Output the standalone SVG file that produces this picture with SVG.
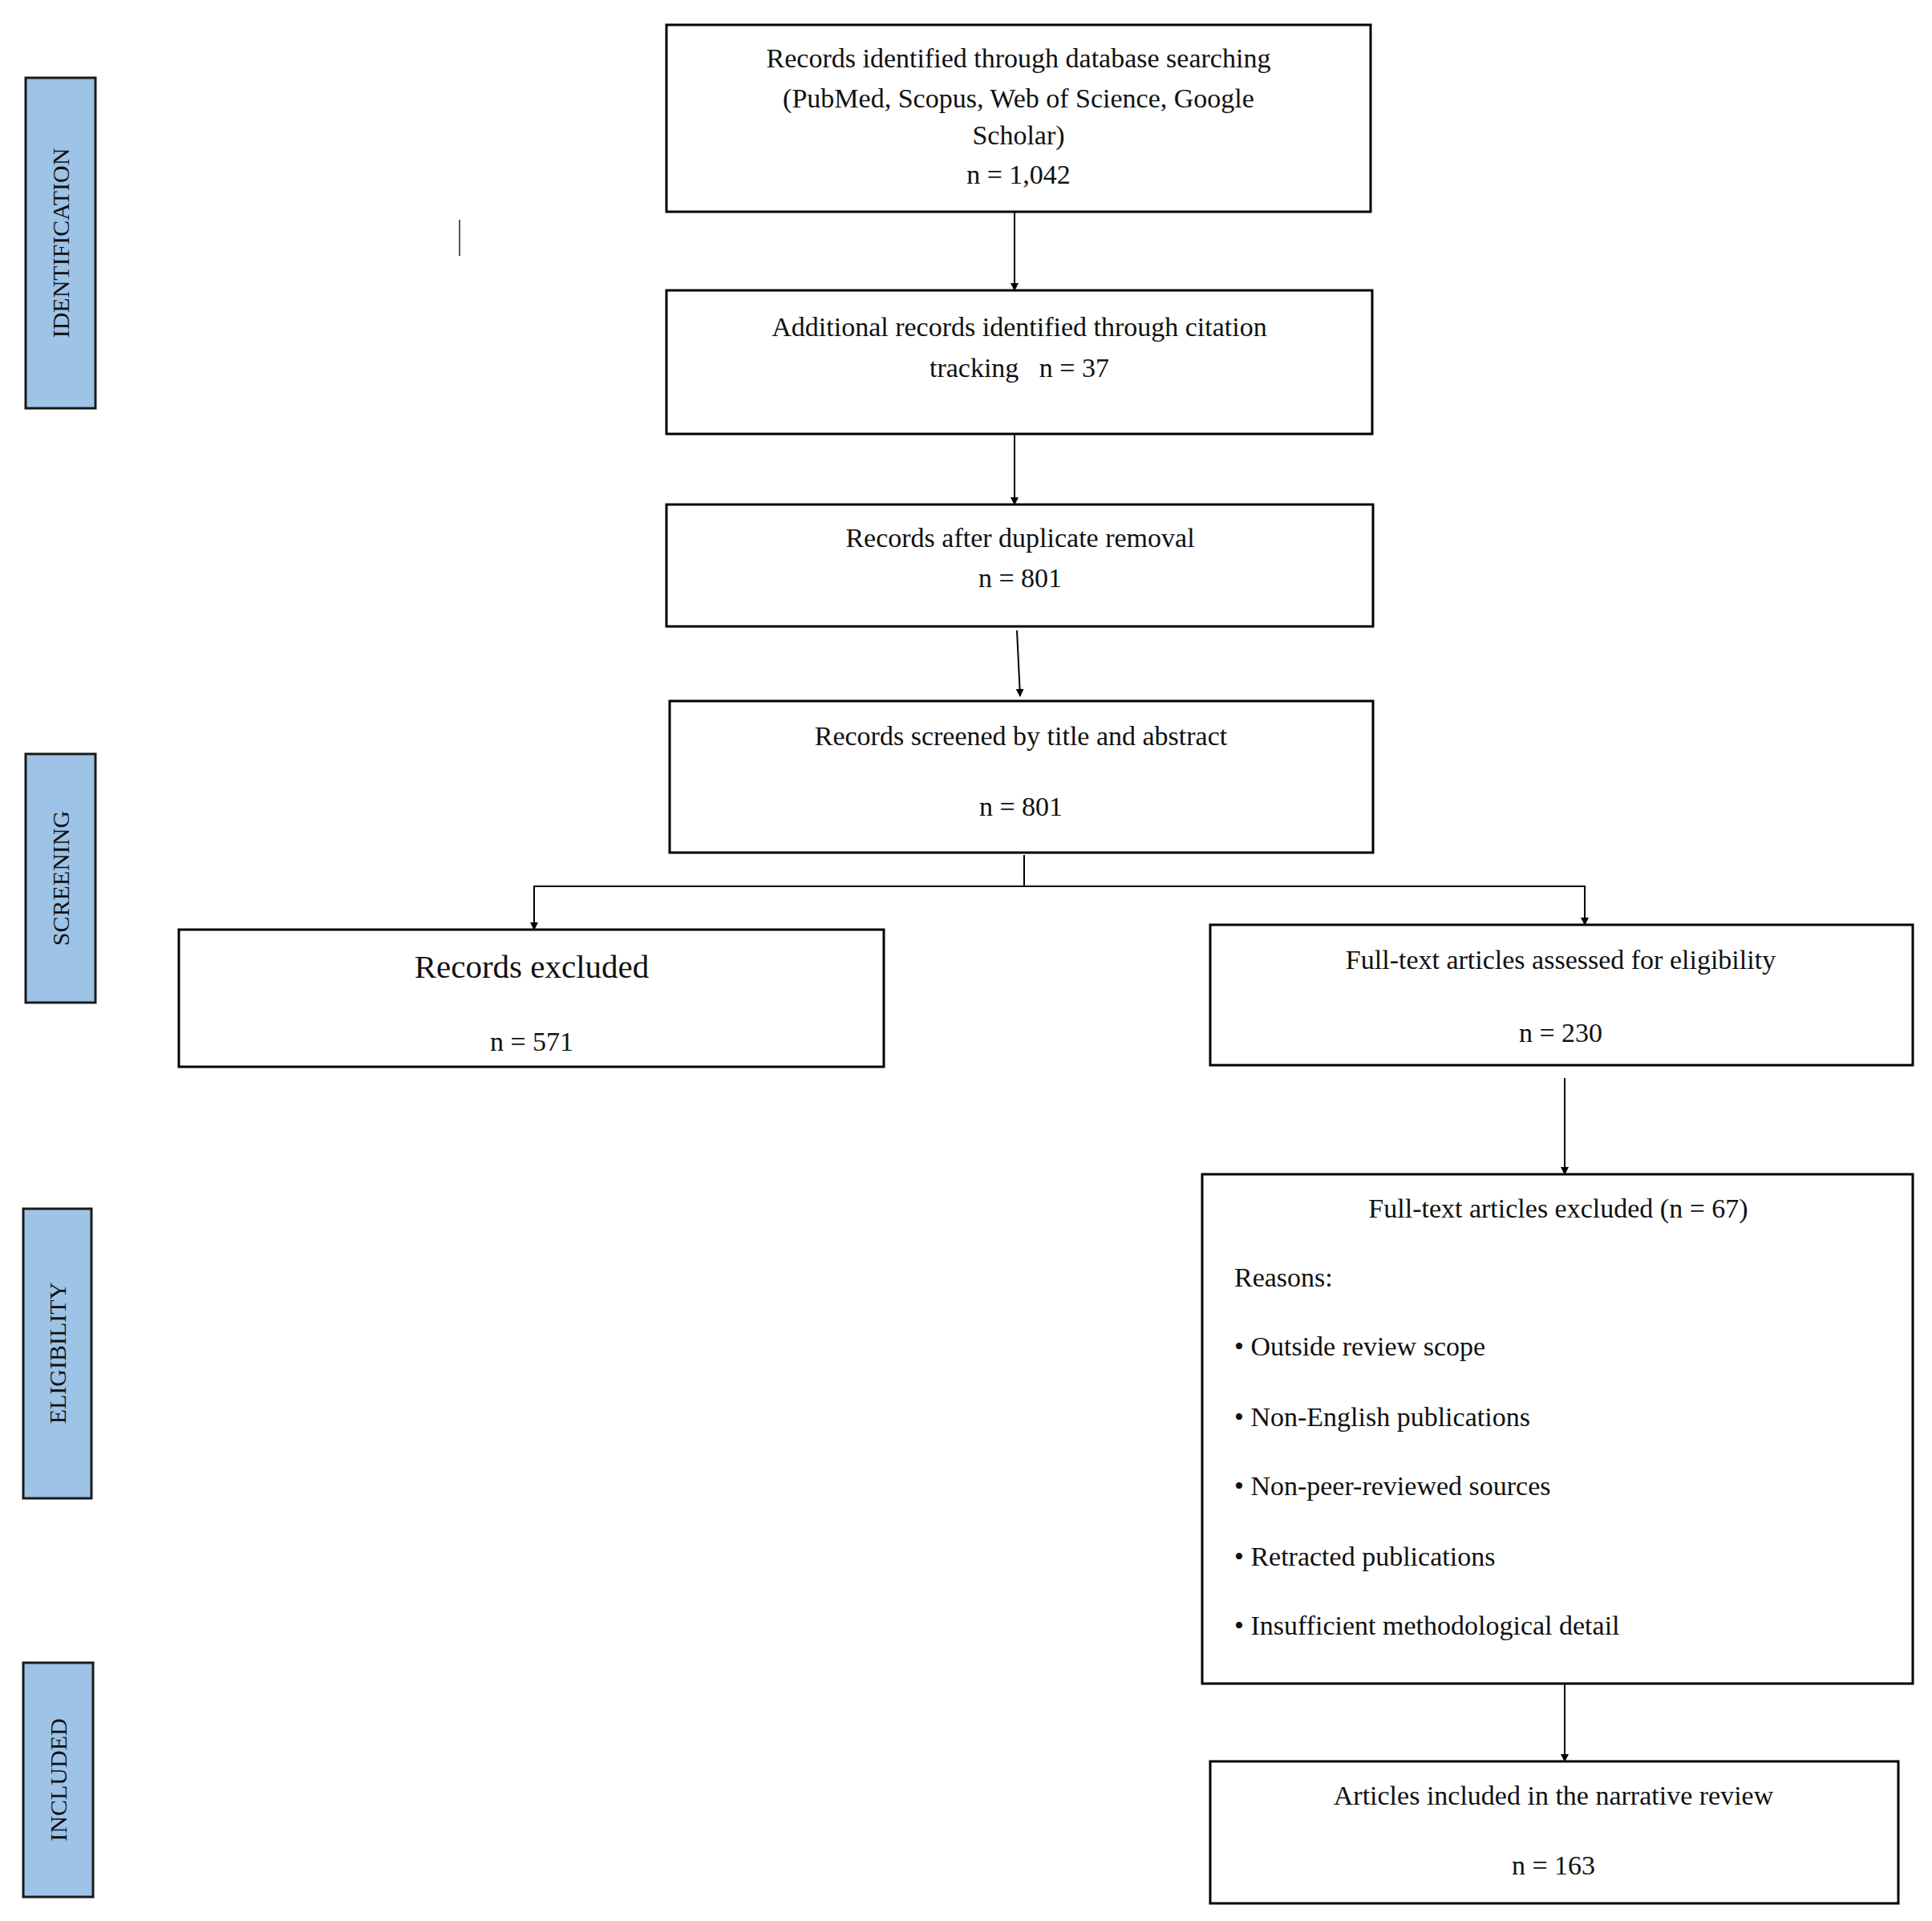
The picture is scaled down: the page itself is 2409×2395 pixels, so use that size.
<svg xmlns="http://www.w3.org/2000/svg" width="2409" height="2395" viewBox="0 0 2409 2395">
<style>
.b{fill:#fff;stroke:#000;stroke-width:3}
.s{fill:#9DC3E6;stroke:#1a1a1a;stroke-width:3}
text{font-family:"Liberation Serif","Times New Roman",serif;font-size:34px;fill:#111}
.c{text-anchor:middle}
.l{font-size:30px;text-anchor:middle}
.e{stroke:#000;stroke-width:2;fill:none}
</style>
<defs><marker id="a" markerWidth="10" markerHeight="10" refX="9" refY="5" orient="auto" markerUnits="userSpaceOnUse" viewBox="0 0 10 10"><path d="M0,0L10,5L0,10z"/></marker></defs>
<rect width="2409" height="2395" fill="#fff"/>
<g id="lbl-identification"><rect class="s" x="32" y="97" width="87" height="412"/><text class="l" transform="translate(86,303) rotate(-90)">IDENTIFICATION</text></g>
<g id="lbl-screening"><rect class="s" x="32" y="940" width="87" height="310"/><text class="l" transform="translate(86,1095) rotate(-90)">SCREENING</text></g>
<g id="lbl-eligibility"><rect class="s" x="29" y="1507" width="85" height="361"/><text class="l" transform="translate(82,1687) rotate(-90)">ELIGIBILITY</text></g>
<g id="lbl-included"><rect class="s" x="29" y="2073" width="87" height="292"/><text class="l" transform="translate(83,2219) rotate(-90)">INCLUDED</text></g>
<line x1="573" y1="274" x2="573" y2="319" stroke="#555" stroke-width="2"/>
<g id="n1"><rect class="b" x="831" y="31" width="878" height="233"/><text class="c" x="1270" y="84">Records identified through database searching</text><text class="c" x="1270" y="134">(PubMed, Scopus, Web of Science, Google</text><text class="c" x="1270" y="180">Scholar)</text><text class="c" x="1270" y="229">n = 1,042</text></g>
<g id="n2"><rect class="b" x="831" y="362" width="880" height="179"/><text class="c" x="1271" y="419">Additional records identified through citation</text><text class="c" x="1271" y="470" xml:space="preserve">tracking   n = 37</text></g>
<g id="n3"><rect class="b" x="831" y="629" width="881" height="152"/><text class="c" x="1272" y="682">Records after duplicate removal</text><text class="c" x="1272" y="732">n = 801</text></g>
<g id="n4"><rect class="b" x="835" y="874" width="877" height="189"/><text class="c" x="1273" y="929">Records screened by title and abstract</text><text class="c" x="1273" y="1017">n = 801</text></g>
<g id="n5"><rect class="b" x="223" y="1159" width="879" height="171"/><text class="c" x="663" y="1219" style="font-size:41px">Records excluded</text><text class="c" x="663" y="1310">n = 571</text></g>
<g id="n6"><rect class="b" x="1509" y="1153" width="876" height="175"/><text class="c" x="1946" y="1208">Full-text articles assessed for eligibility</text><text class="c" x="1946" y="1299">n = 230</text></g>
<g id="n7"><rect class="b" x="1499" y="1464" width="886" height="635"/><text class="c" x="1943" y="1518">Full-text articles excluded (n = 67)</text><text x="1539" y="1604">Reasons:</text><text x="1539" y="1690">• Outside review scope</text><text x="1539" y="1778">• Non-English publications</text><text x="1539" y="1864">• Non-peer-reviewed sources</text><text x="1539" y="1952">• Retracted publications</text><text x="1539" y="2038">• Insufficient methodological detail</text></g>
<g id="n8"><rect class="b" x="1509" y="2196" width="858" height="177"/><text class="c" x="1937" y="2250">Articles included in the narrative review</text><text class="c" x="1937" y="2337">n = 163</text></g>
<g id="connectors">
<line class="e" x1="1265" y1="264" x2="1265" y2="362" marker-end="url(#a)"/>
<line class="e" x1="1265" y1="541" x2="1265" y2="629" marker-end="url(#a)"/>
<line class="e" x1="1268" y1="786" x2="1272" y2="868" marker-end="url(#a)"/>
<polyline class="e" points="1277,1066 1277,1105"/>
<polyline class="e" points="666,1159 666,1105 1976,1105 1976,1153" marker-end="url(#a)"/>
<line class="e" x1="666" y1="1106" x2="666" y2="1159" marker-end="url(#a)"/>
<line class="e" x1="1951" y1="1344" x2="1951" y2="1464" marker-end="url(#a)"/>
<line class="e" x1="1951" y1="2099" x2="1951" y2="2196" marker-end="url(#a)"/>
</g>
</svg>
